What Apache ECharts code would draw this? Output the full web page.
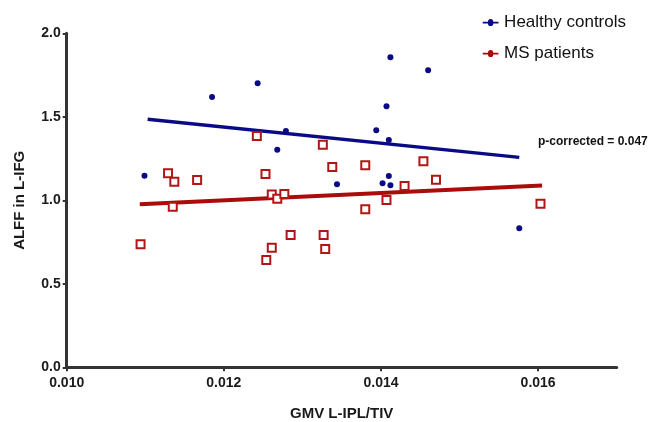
<!DOCTYPE html>
<html>
<head>
<meta charset="utf-8">
<script src="https://cdn.jsdelivr.net/npm/echarts@6/dist/echarts.min.js"></script>
<style>
    html, body { margin: 0; padding: 0; background: #fff; }
    #container { width: 654px; height: 422px; }
</style>
</head>
<body>
<div id="container"></div>
<script>
// healthy controls: [GMV, ALFF]
var hcPoints = [
    [0.01099, 1.147], [0.01185, 1.619], [0.01243, 1.701], [0.01279, 1.415],
    [0.01268, 1.303], [0.01412, 1.856], [0.01460, 1.778], [0.01407, 1.563],
    [0.01394, 1.419], [0.01410, 1.361], [0.01410, 1.146], [0.01402, 1.102],
    [0.01412, 1.090], [0.01344, 1.096], [0.01576, 0.832]
];
// MS patients
var msPoints = [
    [0.01129, 1.162], [0.01137, 1.111], [0.01166, 1.122], [0.01135, 0.962],
    [0.01242, 1.385], [0.01253, 1.157], [0.01261, 1.034], [0.01268, 1.010],
    [0.01277, 1.038], [0.01326, 1.333], [0.01338, 1.199], [0.01380, 1.210],
    [0.01454, 1.234], [0.01470, 1.123], [0.01430, 1.086], [0.01407, 1.002],
    [0.01380, 0.946], [0.01603, 0.980], [0.01094, 0.737], [0.01254, 0.643],
    [0.01261, 0.716], [0.01285, 0.792], [0.01327, 0.792], [0.01329, 0.708]
];
// fitted lines (end points)
var hcFit = [[0.01103, 1.485], [0.01576, 1.257]];
var msFit = [[0.01093, 0.976], [0.01605, 1.088]];

var xTicks = [0.010, 0.012, 0.014, 0.016];
var yTicks = [0.0, 0.5, 1.0, 1.5, 2.0];
var pText = 'p-corrected = 0.047';

var blue = '#0a0a86';
var red = '#aa0b0b';
var axisColor = '#333333';
var font = 'Liberation Sans';

var legendIcon = 'path://M0,3h6a3,3 0 0 1 6,0h6v2h-6a3,3 0 0 1 -6,0h-6z';

var myChart = echarts.init(document.getElementById('container'));
var option = {
    animation: false,
    backgroundColor: '#ffffff',
    grid: {
        left: 66.7,
        right: 37.3,
        top: 33.3,
        bottom: 54.7,
        outerBoundsMode: 'none'
    },
    legend: {
        right: 23,
        top: 9,
        orient: 'vertical',
        itemGap: 14,
        itemWidth: 17,
        itemHeight: 7,
        textStyle: { fontFamily: font, fontSize: 17, color: '#111' },
        data: [
            { name: 'Healthy controls', icon: legendIcon, itemStyle: { color: blue } },
            { name: 'MS patients', icon: legendIcon, itemStyle: { color: red } }
        ]
    },
    xAxis: {
        type: 'value',
        min: 0.010,
        max: 0.017,
        interval: 0.002,
        name: 'GMV L-IPL/TIV',
        nameLocation: 'middle',
        nameGap: 39,
        nameTextStyle: { fontFamily: font, fontWeight: 'bold', fontSize: 15, color: '#1a1a1a' },
        splitLine: { show: false },
        axisLine: { lineStyle: { color: axisColor, width: 3 } },
        axisTick: { length: 4, lineStyle: { color: axisColor, width: 2 } },
        axisLabel: {
            margin: 9,
            fontFamily: font,
            fontWeight: 'bold',
            fontSize: 14,
            color: '#1a1a1a',
            showMaxLabel: false,
            formatter: function (v) {
                var r = Number(Number(v).toFixed(3));
                return xTicks.indexOf(r) >= 0 ? r.toFixed(3) : '';
            }
        }
    },
    yAxis: {
        type: 'value',
        min: 0,
        max: 2,
        interval: 0.5,
        name: 'ALFF in L-IFG',
        nameLocation: 'middle',
        nameRotate: 90,
        nameGap: 39,
        nameTextStyle: { fontFamily: font, fontWeight: 'bold', fontSize: 15, color: '#1a1a1a' },
        splitLine: { show: false },
        axisLine: { lineStyle: { color: axisColor, width: 3 } },
        axisTick: { length: 4, lineStyle: { color: axisColor, width: 2 } },
        axisLabel: {
            margin: 6,
            fontFamily: font,
            fontWeight: 'bold',
            fontSize: 14,
            color: '#1a1a1a',
            formatter: function (v) { return yTicks.indexOf(v) >= 0 ? v.toFixed(1) : ''; }
        }
    },
    graphic: [{
        type: 'text',
        left: 538,
        top: 136,
        style: {
            text: pText,
            fontFamily: font,
            fontWeight: 'bold',
            fontSize: 12,
            fill: '#111'
        }
    }],
    series: [{
        name: 'Healthy controls',
        type: 'line',
        data: hcFit,
        symbol: 'none',
        lineStyle: { color: blue, width: 3.5 },
        itemStyle: { color: blue },
        z: 2
    }, {
        name: 'MS patients',
        type: 'line',
        data: msFit,
        symbol: 'none',
        lineStyle: { color: red, width: 4 },
        itemStyle: { color: red },
        z: 2
    }, {
        name: 'Healthy controls',
        type: 'scatter',
        data: hcPoints,
        symbol: 'circle',
        symbolSize: 6,
        itemStyle: { color: blue, opacity: 1 },
        z: 3
    }, {
        name: 'MS patients',
        type: 'scatter',
        data: msPoints,
        symbol: 'rect',
        symbolSize: 8,
        itemStyle: { color: '#ffffff', borderColor: '#b01616', borderWidth: 2, opacity: 1 },
        z: 3
    }]
};
myChart.setOption(option);
</script>
</body>
</html>
